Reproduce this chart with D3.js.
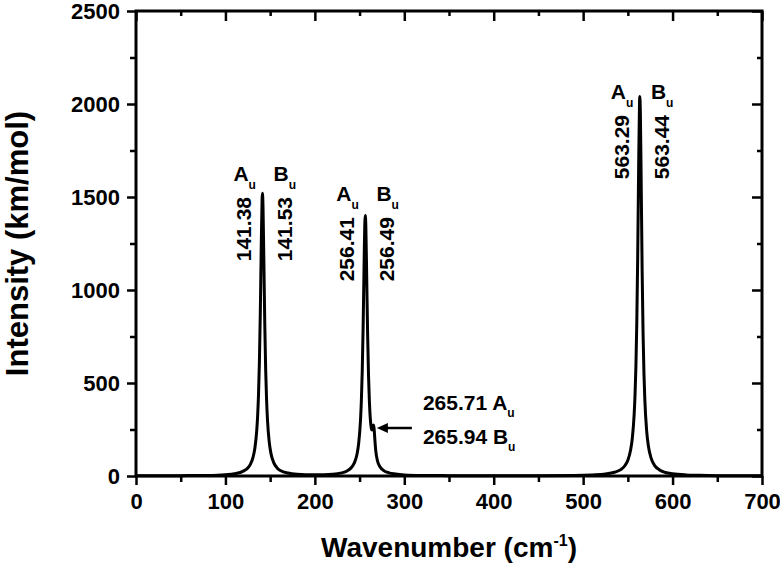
<!DOCTYPE html>
<html>
<head>
<meta charset="utf-8">
<script src="https://cdn.jsdelivr.net/npm/d3@7"></script>
<style>
  body { margin: 0; background: #fff; }
  svg { display: block; font-family: "Liberation Sans", Arial, sans-serif; font-weight: bold; }
</style>
</head>
<body>
<svg id="viz"></svg>
<script>
// spectrum (cm-1, km/mol)
const wavenumber = [0, 50, 80, 100, 110, 120, 125, 128, 131, 133, 135, 136, 137, 138, 139, 140, 141, 141.4,
  142, 143, 144, 145, 146, 147, 149, 151, 154, 158, 162, 170, 180, 200, 220, 230, 236, 240, 244, 247,
  249, 251, 252, 253, 254, 255, 256, 256.4, 257, 258, 259, 260, 261, 262, 263, 264, 265, 265.8, 266.5,
  267, 268, 270, 273, 277, 283, 290, 300, 320, 350, 400, 450, 490, 510, 525, 535, 542, 547, 550, 553,
  555, 557, 558, 559, 560, 561, 562, 563, 563.4, 564, 565, 566, 567, 568, 569, 571, 573, 576, 580, 585,
  592, 600, 615, 630, 650, 680, 700];
const intensity = [1, 2, 3, 7, 12, 26, 43, 64, 103, 152, 244, 322, 438, 614, 876, 1216, 1490, 1520,
  1453, 1146, 816, 573, 411, 304, 182, 119, 72, 42, 28, 16, 10, 7, 10, 17, 27, 41, 69, 114,
  175, 297, 403, 566, 807, 1120, 1372, 1400, 1344, 1063, 763, 542, 398, 309, 261, 247, 268, 274, 239,
  202, 141, 82, 48, 29, 17, 11, 6, 3, 2, 1, 2, 3, 6, 11, 20, 34, 58, 85, 138,
  204, 328, 432, 588, 825, 1176, 1632, 1999, 2040, 1950, 1538, 1096, 769, 551, 408, 244, 160, 96, 56, 34,
  19, 12, 6, 4, 2, 1, 1];

const xTicks = [0, 100, 200, 300, 400, 500, 600, 700];
const xMinorTicks = [50, 150, 250, 350, 450, 550, 650];
const yTicks = [0, 500, 1000, 1500, 2000, 2500];
const yMinorTicks = [250, 750, 1250, 1750, 2250];

// mode labels
const peakModes = [141.38, 141.53, 256.41, 256.49, 563.29, 563.44];
const peakSymbols = ["A", "B", "A", "B", "A", "B"];
const labelTops = [1500, 1500, 1392, 1392, 1941, 1941];
const shoulderModes = ["265.71", "265.94"];
const shoulderSymbols = ["A", "B"];
const shoulderPoint = [266, 258];

const width = 780, height = 570;
const margin = { top: 11, right: 18, bottom: 94, left: 136 };

const svg = d3.select("#viz")
  .attr("width", width)
  .attr("height", height)
  .attr("viewBox", [0, 0, width, height]);

const x = d3.scaleLinear()
  .domain([0, 700])
  .range([margin.left, width - margin.right]);

const y = d3.scaleLinear()
  .domain([0, 2500])
  .range([height - margin.bottom, margin.top]);

const bottom = height - margin.bottom;
const right = width - margin.right;

const cleanAxis = (g) => {
  g.select(".domain").remove();
  g.selectAll(".tick line").attr("stroke", "#000").attr("stroke-width", 2.5);
  g.selectAll(".tick text")
    .attr("fill", "#000")
    .style("font-size", "22px")
    .style("font-family", "'Liberation Sans', Arial, sans-serif")
    .style("font-weight", "bold");
};

// bottom axis (ticks outward)
svg.append("g")
  .attr("transform", `translate(0,${bottom})`)
  .call(d3.axisBottom(x).tickValues(xTicks).tickSize(9).tickPadding(8).tickFormat(d3.format("d")))
  .call(cleanAxis);
svg.append("g")
  .attr("transform", `translate(0,${bottom})`)
  .call(d3.axisBottom(x).tickValues(xMinorTicks).tickSize(6).tickFormat(""))
  .call(cleanAxis);

// left axis
svg.append("g")
  .attr("transform", `translate(${margin.left},0)`)
  .call(d3.axisLeft(y).tickValues(yTicks).tickSize(9).tickPadding(7).tickFormat(d3.format("d")))
  .call(cleanAxis);
svg.append("g")
  .attr("transform", `translate(${margin.left},0)`)
  .call(d3.axisLeft(y).tickValues(yMinorTicks).tickSize(6).tickFormat(""))
  .call(cleanAxis);

// top and right mirror axes (ticks inward)
svg.append("g")
  .attr("transform", `translate(0,${margin.top})`)
  .call(d3.axisTop(x).tickValues(xTicks).tickSize(-10).tickFormat(""))
  .call(cleanAxis);
svg.append("g")
  .attr("transform", `translate(0,${margin.top})`)
  .call(d3.axisTop(x).tickValues(xMinorTicks).tickSize(-5).tickFormat(""))
  .call(cleanAxis);
svg.append("g")
  .attr("transform", `translate(${right},0)`)
  .call(d3.axisRight(y).tickValues(yTicks).tickSize(-10).tickFormat(""))
  .call(cleanAxis);
svg.append("g")
  .attr("transform", `translate(${right},0)`)
  .call(d3.axisRight(y).tickValues(yMinorTicks).tickSize(-5).tickFormat(""))
  .call(cleanAxis);

// spectrum
const points = wavenumber.map((w, i) => [w, intensity[i]]);
const line = d3.line()
  .x(d => x(d[0]))
  .y(d => y(d[1]))
  .curve(d3.curveMonotoneX);

svg.append("path")
  .datum(points)
  .attr("d", line)
  .attr("fill", "none")
  .attr("stroke", "#000")
  .attr("stroke-width", 3)
  .attr("stroke-linejoin", "round");

// frame
svg.append("rect")
  .attr("x", margin.left)
  .attr("y", margin.top)
  .attr("width", right - margin.left)
  .attr("height", bottom - margin.top)
  .attr("fill", "none")
  .attr("stroke", "#000")
  .attr("stroke-width", 3);

// peak labels: rotated frequency + symmetry symbol above
peakModes.forEach((nu, i) => {
  const bx = peakSymbols[i] === "A" ? x(nu) - 11 : x(nu) + 29;
  const top = y(labelTops[i]);

  svg.append("text")
    .attr("transform", `translate(${bx},${top}) rotate(-90)`)
    .attr("text-anchor", "end")
    .style("font-size", "21px")
    .text(nu.toFixed(2));

  const sym = svg.append("text")
    .attr("x", bx - 18)
    .attr("y", top - 16)
    .style("font-size", "21px")
    .text(peakSymbols[i]);
  sym.append("tspan")
    .attr("dy", 8)
    .style("font-size", "12px")
    .text("u");
});

// shoulder annotation with arrow
const tipX = x(shoulderPoint[0]) + 3;
const tipY = y(shoulderPoint[1]);

svg.append("line")
  .attr("x1", tipX + 8)
  .attr("y1", tipY)
  .attr("x2", tipX + 35)
  .attr("y2", tipY)
  .attr("stroke", "#000")
  .attr("stroke-width", 2.5);
svg.append("path")
  .attr("d", `M${tipX},${tipY} L${tipX + 11},${tipY - 5} L${tipX + 11},${tipY + 5} Z`)
  .attr("fill", "#000");

shoulderModes.forEach((s, i) => {
  const t = svg.append("text")
    .attr("x", tipX + 46)
    .attr("y", tipY + (i === 0 ? -18 : 16))
    .style("font-size", "21px")
    .text(`${s} ${shoulderSymbols[i]}`);
  t.append("tspan")
    .attr("dy", 7)
    .style("font-size", "12px")
    .text("u");
});

// axis titles
svg.append("text")
  .attr("x", (margin.left + right) / 2)
  .attr("y", 557)
  .attr("text-anchor", "middle")
  .style("font-size", "28px")
  .call(t => {
    t.append("tspan").text("Wavenumber (cm");
    t.append("tspan").attr("dy", -11).style("font-size", "16px").text("-1");
    t.append("tspan").attr("dy", 11).text(")");
  });

svg.append("text")
  .attr("transform", `translate(28,${(margin.top + bottom) / 2}) rotate(-90)`)
  .attr("text-anchor", "middle")
  .style("font-size", "31px")
  .text("Intensity (km/mol)");
</script>
</body>
</html>
